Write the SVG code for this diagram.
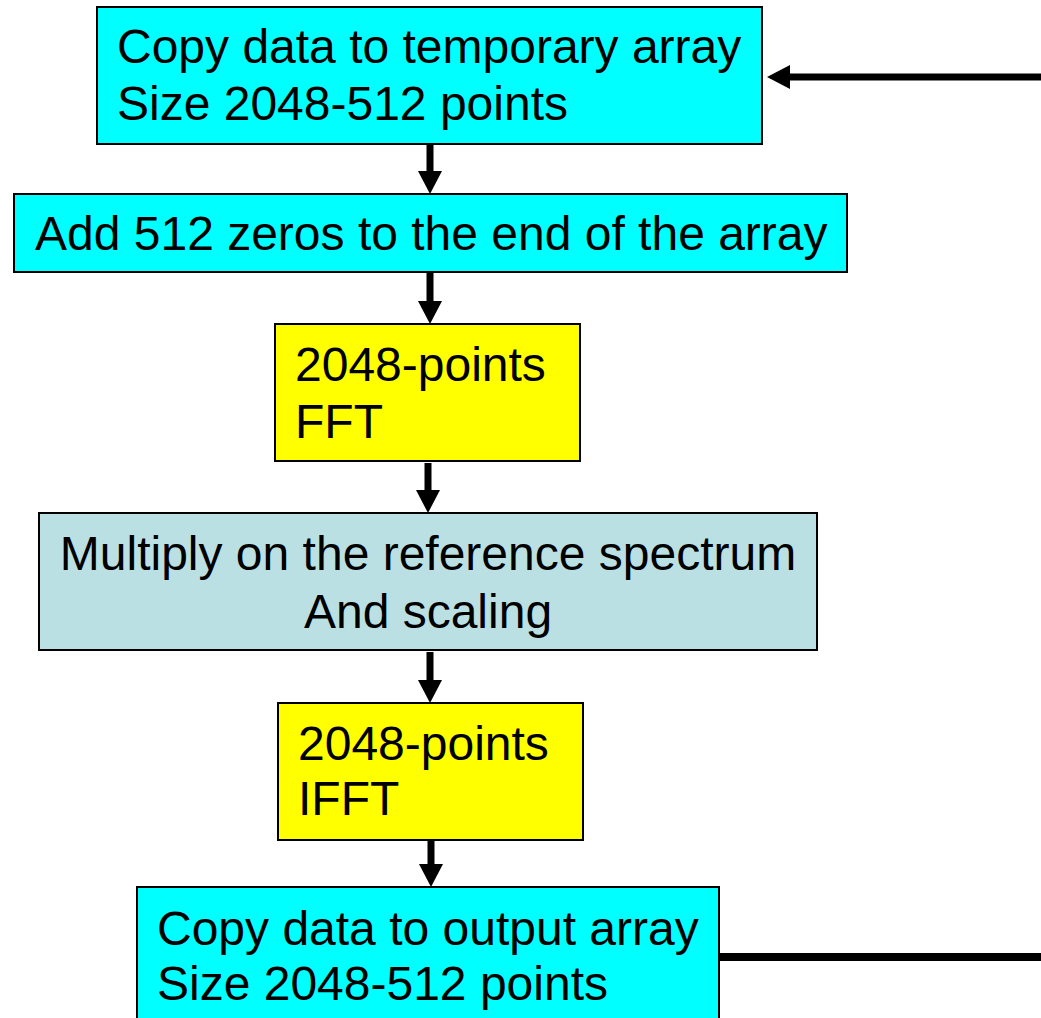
<svg xmlns="http://www.w3.org/2000/svg" width="1041" height="1018" viewBox="0 0 1041 1018">
<style>
.box{stroke:#000;stroke-width:2}
.cyan{fill:#00FFFF}
.yellow{fill:#FFFF00}
.blue{fill:#BBE0E3}
text{font-family:"Liberation Sans",Arial,sans-serif;font-size:48px;fill:#000}
.conn{stroke:#000;stroke-width:7;fill:none}
</style>
<defs>
<marker id="ah" viewBox="0 0 23 24" refX="1" refY="12" markerWidth="23" markerHeight="24" markerUnits="userSpaceOnUse" orient="auto">
<path d="M0,0 L23,12 L0,24 Z" fill="#000"/>
</marker>
</defs>
<rect width="1041" height="1018" fill="#fff"/>
<g id="connectors">
<line class="conn" x1="430" y1="145" x2="430" y2="172" marker-end="url(#ah)"/>
<line class="conn" x1="430" y1="273" x2="430" y2="302" marker-end="url(#ah)"/>
<line class="conn" x1="428" y1="463" x2="428" y2="491" marker-end="url(#ah)"/>
<line class="conn" x1="430" y1="652" x2="430" y2="681" marker-end="url(#ah)"/>
<line class="conn" x1="431" y1="841" x2="431" y2="865" marker-end="url(#ah)"/>
<line class="conn" x1="1041" y1="77" x2="789" y2="77" marker-end="url(#ah)"/>
<line class="conn" x1="719" y1="957" x2="1041" y2="957" style="stroke-width:8"/>
</g>
<g id="node1">
<rect class="box cyan" x="97" y="7" width="665" height="137"/>
<text x="117" y="63">Copy data to temporary array</text>
<text x="117" y="120">Size 2048-512 points</text>
</g>
<g id="node2">
<rect class="box cyan" x="14" y="194" width="833" height="78"/>
<text x="35" y="250">Add 512 zeros to the end of the array</text>
</g>
<g id="node3">
<rect class="box yellow" x="275" y="324" width="305" height="137"/>
<text x="295" y="381">2048-points</text>
<text x="295" y="438">FFT</text>
</g>
<g id="node4">
<rect class="box blue" x="39" y="513" width="778" height="137"/>
<text x="428" y="570" text-anchor="middle">Multiply on the reference spectrum</text>
<text x="428" y="628" text-anchor="middle">And scaling</text>
</g>
<g id="node5">
<rect class="box yellow" x="278" y="703" width="305" height="137"/>
<text x="298" y="760">2048-points</text>
<text x="298" y="815">IFFT</text>
</g>
<g id="node6">
<rect class="box cyan" x="137" y="887" width="582" height="140"/>
<text x="157" y="945">Copy data to output array</text>
<text x="157" y="1000">Size 2048-512 points</text>
</g>
</svg>
